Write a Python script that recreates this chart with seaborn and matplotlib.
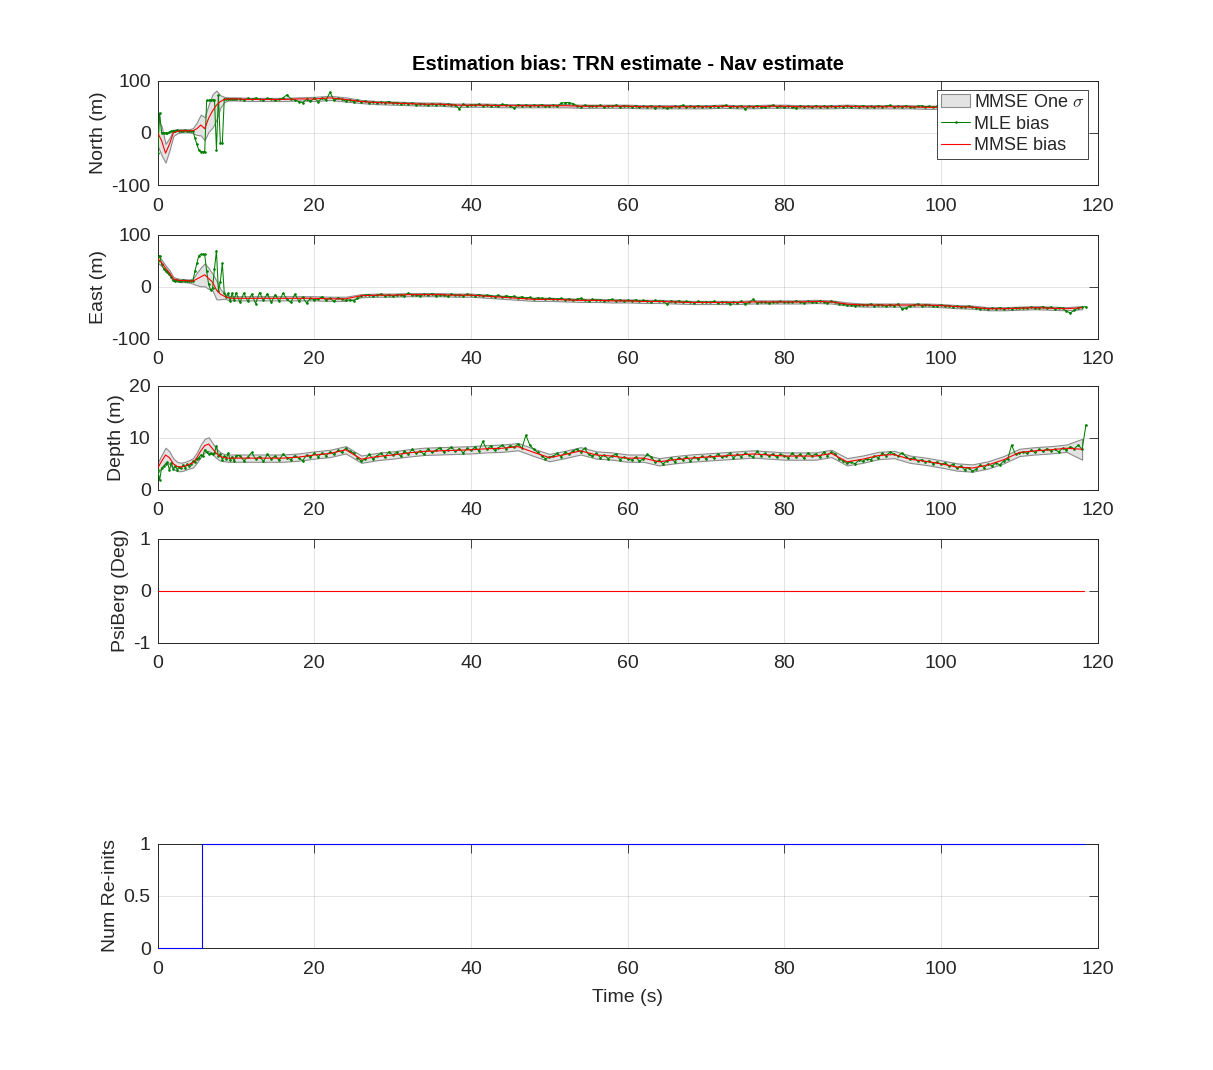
import numpy as np
import matplotlib
matplotlib.use("Agg")
import matplotlib.pyplot as plt
import seaborn as sns

# ---------------- data ----------------
# MLE samples: every 0.25 s up to 10 s, then every 0.5 s
mle_time = np.concatenate([np.arange(0, 10.01, 0.25), np.arange(10.5, 118.51, 0.5)])
# MMSE samples: every 0.5 s up to 10 s, then every 2 s
mmse_time = np.concatenate([np.arange(0, 10.01, 0.5), np.arange(12, 118.01, 2)])

north_mle = [
    -39, 38, 0, 0, 0, 0, 1, 3, 4, 4, 5, 4, 4, 4, 5, 4, 4, 4, 4, -10, -22, -33, -36, -36, -36,
    62, 62, 63, 63, 63, -32, 72, -20, -20, 65, 64, 65, 64, 65, 64, 65,
    65, 63, 66, 64, 67, 64, 63, 66, 65, 62, 64, 67, 73, 65, 63, 60, 58, 64, 61, 66,
    60, 67, 63, 78, 62, 66, 64, 61, 63, 60, 62, 59, 61, 58, 60, 57, 59, 58, 60, 57,
    58, 56, 58, 55, 57, 54, 56, 55, 53, 56, 54, 55, 53, 55, 54, 53, 46, 55, 52, 54,
    53, 55, 52, 54, 52, 53, 51, 55, 53, 52, 47, 54, 52, 53, 51, 53, 52, 54, 51, 52,
    53, 51, 57, 58, 58, 56, 52, 50, 53, 51, 52, 51, 53, 50, 52, 51, 53, 50, 52, 51,
    50, 52, 49, 51, 50, 52, 48, 51, 50, 47, 49, 51, 50, 53, 49, 51, 50, 52, 50, 51,
    49, 52, 50, 51, 53, 49, 51, 50, 52, 46, 51, 50, 52, 50, 49, 51, 53, 50, 51, 49,
    51, 50, 47, 52, 50, 51, 49, 52, 50, 51, 50, 52, 49, 51, 50, 52, 49, 51, 50, 52,
    50, 51, 49, 52, 50, 51, 53, 49, 51, 50, 52, 50, 49, 51, 52, 50, 51, 49, 51, 50,
    51, 50, 52, 49, 51, 50, 52, 50, 51, 49, 51, 52, 50, 51, 49, 52, 50, 51, 50, 52,
    50, 51, 49, 52, 50, 51, 50, 52, 49, 51, 50, 52, 50, 51, 49, 51, 50,
]
north_mmse = [
    0, -15, -39, -22, 0, 3, 4, 4, 4, 4, 8, 15, 8, 28, 42, 53, 60, 64, 65, 65, 65,
    64, 64, 64, 65, 65, 67, 64, 60, 58, 57, 56, 55, 55, 53, 53, 53, 52, 52, 52, 52,
    52, 51, 51, 51, 51, 50, 50, 50, 50, 50, 51, 50, 50, 51, 51, 50, 50, 50, 51, 50,
    50, 50, 50, 49, 49, 50, 50, 50, 50, 50, 50, 50, 50, 50,
]
north_sigma = [
    25, 28, 18, 12, 6, 4, 3, 3, 3, 5, 12, 20, 22, 26, 32, 28, 12, 5, 3, 3, 3,
    3, 3, 3, 3, 4, 4, 4, 3, 3, 3, 3, 3, 3, 3, 3, 3, 3, 3, 3, 3,
    3, 3, 3, 3, 3, 3, 3, 3, 3, 3, 3, 3, 3, 3, 3, 3, 3, 3, 3, 3,
    3, 3, 3, 3, 3, 3, 3, 3, 3, 3, 3, 3, 3, 3,
]

east_mle = [
    50, 60, 44, 35, 30, 28, 25, 18, 14, 12, 13, 12, 11, 13, 12, 11, 12, 11, 12, 30, 45, 60, 62, 62, 62,
    30, 5, -6, -3, 35, 69, -8, 10, 45, -12, -20, -12, -28, -12, -26, -11,
    -30, -12, -28, -14, -32, -11, -26, -13, -30, -15, -28, -12, -24, -30, -14, -27, -20, -31, -22, -25,
    -23, -19, -26, -22, -28, -21, -24, -26, -25, -27, -22, -17, -16, -15, -18, -16, -14, -17, -15, -18,
    -16, -15, -17, -12, -16, -15, -18, -14, -16, -13, -17, -15, -16, -18, -14, -16, -15, -17, -14, -16,
    -17, -15, -18, -16, -17, -19, -16, -20, -17, -19, -18, -21, -19, -22, -20, -23, -21, -22, -24, -22,
    -23, -24, -22, -25, -23, -26, -24, -22, -25, -27, -24, -26, -25, -27, -26, -24, -27, -25, -28, -26,
    -27, -25, -28, -26, -27, -29, -26, -28, -27, -33, -28, -29, -27, -30, -28, -29, -31, -28, -30, -29,
    -30, -28, -31, -29, -30, -32, -29, -31, -28, -33, -30, -24, -31, -29, -30, -31, -29, -30, -28, -30,
    -29, -30, -27, -29, -31, -28, -30, -29, -27, -29, -31, -28, -30, -32, -33, -35, -34, -36, -35, -34,
    -35, -33, -36, -34, -35, -37, -34, -36, -33, -42, -41, -36, -35, -33, -36, -34, -35, -37, -36, -35,
    -37, -36, -38, -37, -39, -38, -37, -39, -40, -42, -41, -43, -41, -42, -40, -43, -41, -42, -40, -41,
    -40, -41, -39, -41, -40, -38, -41, -39, -42, -40, -41, -47, -50, -45, -40, -39, -38,
]
east_mmse = [
    54, 46, 36, 27, 15, 13, 12, 12, 11, 11, 15, 19, 23, 16, 9, -6, -14, -18, -21, -22, -22,
    -22, -22, -22, -22, -22, -23, -23, -17, -16, -16, -15, -15, -15, -16, -16, -18, -20, -22, -24, -24,
    -25, -26, -26, -27, -27, -28, -28, -29, -30, -30, -30, -30, -29, -29, -29, -29, -28, -29, -33, -35,
    -35, -35, -35, -35, -36, -38, -39, -42, -42, -41, -40, -41, -42, -40,
]
east_sigma = [
    8, 6, 5, 5, 4, 3, 3, 3, 3, 5, 12, 18, 22, 20, 16, 18, 10, 5, 4, 4, 4,
    4, 4, 4, 4, 4, 4, 4, 3, 3, 3, 3, 3, 3, 3, 3, 3, 3, 3, 3, 3,
    3, 3, 3, 3, 3, 3, 3, 3, 3, 3, 3, 3, 3, 3, 3, 3, 3, 3, 3, 3,
    3, 3, 3, 3, 3, 3, 3, 3, 3, 3, 3, 3, 3, 3,
]

depth_mle = [
    3.9, 1.9, 4.2, 4.5, 4.9, 5.3, 3.8, 5.2, 4.0, 4.6, 3.9, 4.4, 4.2, 4.8, 4.3, 4.9, 4.6, 5.0, 5.5, 5.3,
    6.0, 6.2, 6.7, 6.5, 7.7, 7.2, 6.9, 7.0, 6.8, 7.1, 8.5, 6.5, 6.9, 5.8, 6.5, 6.0, 7.1, 5.7, 6.4, 5.5, 6.6,
    6.6, 5.6, 6.3, 7.2, 5.9, 6.4, 5.5, 6.8, 6.0, 6.5, 5.7, 6.9, 6.2, 5.8, 6.6, 6.1, 5.6, 6.7, 6.3, 7.0,
    6.4, 7.1, 6.6, 7.3, 6.8, 7.6, 7.2, 8.0, 7.4, 7.1, 6.2, 5.5, 6.0, 6.8, 5.9, 6.6, 7.0, 6.3, 7.3, 6.7,
    7.2, 6.5, 7.4, 6.9, 7.8, 7.0, 7.5, 6.8, 7.9, 7.2, 7.6, 8.1, 7.3, 7.7, 8.2, 7.4, 7.9, 7.1, 8.0, 7.6,
    8.2, 7.5, 9.3, 7.8, 8.4, 7.6, 8.1, 8.6, 7.9, 8.5, 8.2, 8.8, 8.0, 10.5, 8.6, 7.8, 7.2, 6.6, 6.0, 6.3,
    6.5, 7.0, 6.4, 7.2, 6.9, 7.5, 7.8, 7.3, 8.0, 6.8, 6.5, 7.0, 6.2, 6.7, 6.0, 6.5, 6.9, 5.8, 6.3, 6.0,
    5.7, 6.3, 5.5, 6.0, 6.8, 6.4, 5.3, 5.7, 5.0, 5.6, 6.1, 5.4, 6.2, 5.8, 6.4, 5.6, 6.3, 5.9, 6.5, 6.0,
    6.6, 6.1, 6.9, 6.3, 6.5, 7.0, 6.2, 6.8, 6.4, 7.1, 6.7, 6.3, 7.4, 6.6, 7.0, 6.5, 6.9, 6.3, 6.8, 6.6,
    6.2, 7.0, 6.4, 6.8, 6.1, 7.1, 6.5, 6.9, 6.3, 7.2, 6.6, 7.3, 6.9, 5.9, 5.6, 5.1, 5.4, 5.0, 5.7, 5.5,
    6.0, 5.8, 6.5, 6.2, 7.0, 6.6, 7.3, 6.9, 6.5, 7.1, 6.4, 5.9, 6.2, 5.6, 5.8, 5.3, 5.6, 5.0, 5.4, 4.9,
    5.2, 4.6, 4.9, 4.2, 4.6, 3.9, 4.3, 3.6, 4.0, 4.8, 4.3, 5.0, 4.6, 5.2, 4.8, 5.6, 5.9, 8.6, 6.8, 7.1,
    7.3, 7.0, 7.6, 7.2, 7.8, 7.4, 7.9, 7.5, 7.8, 7.3, 8.0, 7.7, 8.3, 7.9, 8.6, 7.8, 12.5,
]
depth_mmse = [
    4.2, 5.5, 6.7, 6.2, 5.0, 4.5, 4.4, 4.6, 4.9, 5.2, 6.2, 7.5, 8.5, 8.8, 7.9, 7.0, 6.4, 6.2, 6.1, 6.1, 6.1,
    6.1, 6.1, 6.1, 6.3, 6.7, 7.0, 7.7, 5.9, 6.4, 6.7, 7.1, 7.4, 7.5, 7.6, 7.7, 7.9, 8.0, 8.3, 7.2, 6.2,
    6.8, 7.5, 6.7, 6.5, 6.1, 6.1, 5.4, 5.8, 6.1, 6.3, 6.5, 6.7, 6.9, 6.7, 6.5, 6.5, 6.5, 7.0, 5.4, 5.9,
    6.6, 6.8, 5.9, 5.5, 5.0, 4.4, 4.2, 4.8, 5.8, 7.2, 7.5, 7.7, 8.0, 7.8,
]
depth_sigma = [
    1.0, 1.2, 1.4, 1.2, 1.0, 0.9, 0.8, 0.8, 0.8, 0.9, 1.0, 1.2, 1.3, 1.3, 1.1, 0.9, 0.8, 0.7, 0.7, 0.7, 0.7,
    0.7, 0.7, 0.7, 0.7, 0.7, 0.7, 0.7, 0.7, 0.7, 0.7, 0.7, 0.7, 0.7, 0.7, 0.7, 0.7, 0.7, 0.7, 0.7, 0.7,
    0.7, 0.7, 0.7, 0.7, 0.7, 0.7, 0.7, 0.7, 0.7, 0.7, 0.7, 0.7, 0.7, 0.7, 0.7, 0.7, 0.7, 0.7, 0.7, 0.7,
    0.7, 0.7, 0.7, 0.7, 0.7, 0.7, 0.7, 0.7, 0.7, 0.7, 0.7, 0.7, 0.7, 2.0,
]

psi_time = [0.0, 118.2]
psi_bias = [0.0, 0.0]

reinit_time = [0.0, 5.6, 5.6, 118.4]
reinit_count = [0, 0, 1, 1]

panel_labels = ["North (m)", "East (m)", "Depth (m)", "PsiBerg (Deg)", "Num Re-inits"]
panel_ylims = [(-100, 100), (-100, 100), (0, 20), (-1, 1), (0, 1)]
panel_yticks = [[-100, 0, 100], [-100, 0, 100], [0, 10, 20], [-1, 0, 1], [0, 0.5, 1]]
panel_yticklabels = [["-100", "0", "100"], ["-100", "0", "100"], ["0", "10", "20"],
                     ["-1", "0", "1"], ["0", "0.5", "1"]]
x_ticks = [0, 20, 40, 60, 80, 100, 120]

assert len(mle_time) == len(north_mle) == len(east_mle) == len(depth_mle)
assert len(mmse_time) == len(north_mmse) == len(north_sigma) == len(east_mmse) == len(east_sigma) == len(depth_mmse) == len(depth_sigma)

# ---------------- style ----------------
sns.set_style("white")
plt.rcParams["font.family"] = ["Liberation Sans", "DejaVu Sans"]
plt.rcParams["mathtext.fontset"] = "cm"

AX_COL = "#262626"
GREEN = "#008000"
RED = "#ff0000"
BAND_FACE = "#e3e3e3"
BAND_EDGE = "#8c8c8c"
FS = 14

fig = plt.figure(figsize=(12.13, 10.70), dpi=100)
left, width, height = 0.13, 0.775, 0.0975
bottoms = [0.8271, 0.6832, 0.5421, 0.3991, 0.1140]
axes = [fig.add_axes([left, b, width, height]) for b in bottoms]


def style_axis(ax, i):
    ax.set_xlim(0, 120)
    ax.set_ylim(*panel_ylims[i])
    ax.set_xticks(x_ticks)
    ax.set_xticklabels([str(v) for v in x_ticks])
    ax.set_yticks(panel_yticks[i])
    ax.set_yticklabels(panel_yticklabels[i])
    ax.tick_params(direction="in", length=6.8, width=0.6, top=True, right=True,
                   color=AX_COL, labelcolor=AX_COL, labelsize=FS)
    ax.tick_params(axis="x", pad=9)
    ax.tick_params(axis="y", pad=5)
    for s in ax.spines.values():
        s.set_color(AX_COL)
        s.set_linewidth(0.7)
        s.set_visible(True)
    ax.grid(True, color=AX_COL, alpha=0.15, linewidth=0.6)
    ax.set_axisbelow(True)
    ax.set_ylabel(panel_labels[i], fontsize=FS, color=AX_COL, labelpad=3)
    ax.set_xlabel("")


series = [(north_mle, north_mmse, north_sigma),
          (east_mle, east_mmse, east_sigma),
          (depth_mle, depth_mmse, depth_sigma)]

for i, (mle, mmse, sig) in enumerate(series):
    ax = axes[i]
    mm = np.asarray(mmse, dtype=float)
    sg = np.asarray(sig, dtype=float)
    band = ax.fill_between(mmse_time, mm - sg, mm + sg, facecolor=BAND_FACE,
                           edgecolor=BAND_EDGE, linewidth=0.8, zorder=2,
                           label=r"MMSE One $\sigma$")
    sns.lineplot(x=mle_time, y=mle, ax=ax, color=GREEN, linewidth=0.75,
                 marker=".", markersize=2.2, markeredgecolor=GREEN,
                 markerfacecolor=GREEN, estimator=None, sort=False,
                 label="MLE bias", legend=False, zorder=3)
    sns.lineplot(x=mmse_time, y=mmse, ax=ax, color=RED, linewidth=0.8,
                 estimator=None, sort=False, label="MMSE bias", legend=False, zorder=4)
    style_axis(ax, i)
    if i == 0:
        lines = ax.get_lines()
        leg = ax.legend([band, lines[0], lines[1]],
                        [r"MMSE One $\sigma$", "MLE bias", "MMSE bias"],
                        loc="upper right", bbox_to_anchor=(0.99, 0.915),
                        borderaxespad=0, fontsize=13, frameon=True, fancybox=False,
                        framealpha=1, edgecolor=AX_COL, handlelength=1.6,
                        handletextpad=0.2, labelspacing=0.25, borderpad=0.25)
        leg.get_frame().set_linewidth(0.6)
        leg.set_zorder(10)

# PsiBerg
ax = axes[3]
sns.lineplot(x=psi_time, y=psi_bias, ax=ax, color=RED, linewidth=0.8,
             estimator=None, sort=False, legend=False, zorder=4)
style_axis(ax, 3)

# Num re-inits
ax = axes[4]
sns.lineplot(x=reinit_time, y=reinit_count, ax=ax, color="#0000ff", linewidth=0.8,
             estimator=None, sort=False, legend=False, zorder=3, clip_on=False)
style_axis(ax, 4)
ax.set_xlabel("Time (s)", fontsize=FS, color=AX_COL, labelpad=8)

axes[0].set_title("Estimation bias: TRN estimate - Nav estimate", fontsize=14.5,
                  fontweight="bold", color="black", pad=8)

fig.savefig("out.png", dpi=100)
